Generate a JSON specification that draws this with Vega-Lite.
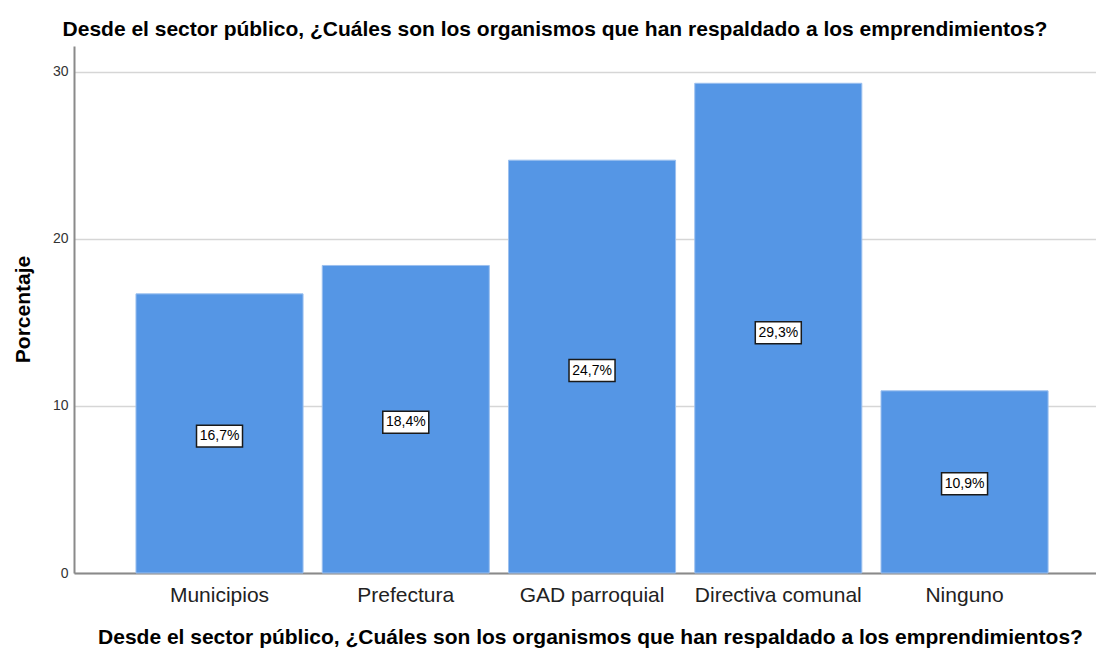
{
  "$schema": "https://vega.github.io/schema/vega-lite/v6.json",
  "width": 1022,
  "height": 527,
  "autosize": {"type": "none"},
  "padding": {"left": 74, "top": 46, "right": 0, "bottom": 75},
  "background": "white",
  "title": {
    "text": "Desde el sector público, ¿Cuáles son los organismos que han respaldado a los emprendimientos?",
    "font": "Liberation Sans",
    "fontSize": 21,
    "fontWeight": "bold",
    "color": "black",
    "anchor": "middle",
    "dx": -30,
    "dy": 21,
    "offset": 10,
    "baseline": "alphabetic"
  },
  "data": {
    "values": [
      {"organismo": "Municipios", "pct": 16.7, "etiqueta": "16,7%"},
      {"organismo": "Prefectura", "pct": 18.4, "etiqueta": "18,4%"},
      {"organismo": "GAD parroquial", "pct": 24.7, "etiqueta": "24,7%"},
      {"organismo": "Directiva comunal", "pct": 29.3, "etiqueta": "29,3%"},
      {"organismo": "Ninguno", "pct": 10.9, "etiqueta": "10,9%"}
    ]
  },
  "layer": [
    {
      "mark": {"type": "bar", "color": "#5596e5", "stroke": "#9cc0ef", "strokeWidth": 1},
      "encoding": {
        "x": {
          "field": "organismo",
          "type": "nominal",
          "sort": null,
          "scale": {"paddingInner": 0.103, "paddingOuter": 0.295, "align": 0.564},
          "axis": {
            "title": "Desde el sector público, ¿Cuáles son los organismos que han respaldado a los emprendimientos?",
            "titleFont": "Liberation Sans",
            "titleFontSize": 21,
            "titleFontWeight": "bold",
            "titleColor": "black",
            "titleX": 516,
            "titleY": 70,
            "titleAlign": "center",
            "titleBaseline": "alphabetic",
            "labelAngle": 0,
            "labelFont": "Liberation Sans",
            "labelFontSize": 21,
            "labelColor": "#222222",
            "labelPadding": 11,
            "ticks": false,
            "domainColor": "#8a8a8a",
            "domainWidth": 2,
            "grid": false
          }
        },
        "y": {
          "field": "pct",
          "type": "quantitative",
          "scale": {"domain": [0, 31.53], "nice": false},
          "axis": {
            "title": "Porcentaje",
            "titleFont": "Liberation Sans",
            "titleFontSize": 21,
            "titleFontWeight": "bold",
            "titleColor": "black",
            "titleX": -51,
            "titleY": 263,
            "titleAngle": -90,
            "titleAlign": "center",
            "titleBaseline": "middle",
            "values": [0, 10, 20, 30],
            "ticks": false,
            "labelPadding": 6,
            "labelFont": "Liberation Sans",
            "labelFontSize": 14,
            "labelColor": "#333333",
            "domainColor": "#8a8a8a",
            "domainWidth": 2,
            "gridColor": "#d6d6d6",
            "gridWidth": 1.5
          }
        }
      }
    },
    {
      "layer": [
        {
          "mark": {
            "type": "point",
            "shape": "M-1,-0.478H1V0.478H-1Z",
            "size": 2116,
            "filled": true,
            "fill": "white",
            "stroke": "#1a1a1a",
            "strokeWidth": 1.5,
            "opacity": 1
          },
          "encoding": {
            "x": {"field": "organismo", "type": "nominal", "sort": null},
            "y": {"field": "pct", "type": "quantitative", "scale": {"domain": [0, 64.3], "nice": false}, "axis": null}
          }
        },
        {
          "mark": {"type": "text", "font": "Liberation Sans", "fontSize": 14, "color": "black", "align": "center", "baseline": "middle"},
          "encoding": {
            "x": {"field": "organismo", "type": "nominal", "sort": null},
            "y": {"field": "pct", "type": "quantitative", "scale": {"domain": [0, 64.3], "nice": false}, "axis": null},
            "text": {"field": "etiqueta", "type": "nominal"}
          }
        }
      ]
    }
  ],
  "resolve": {"scale": {"y": "independent"}},
  "config": {"view": {"stroke": null}}
}
